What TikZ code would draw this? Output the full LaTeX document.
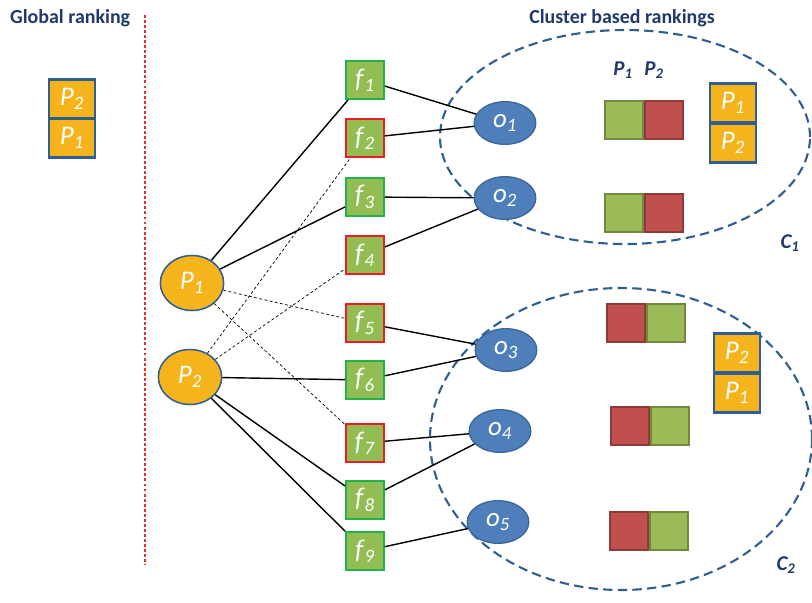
\documentclass[tikz,border=0pt]{standalone}
\usepackage{fontspec}
\setmainfont{Carlito}
\usetikzlibrary{shapes.geometric}

\definecolor{featfill}{HTML}{92BD52}
\definecolor{featgreen}{HTML}{22B24C}
\definecolor{featred}{HTML}{EC1C24}
\definecolor{prodfill}{HTML}{F5B41C}
\definecolor{navy}{HTML}{2F5E92}
\definecolor{objfill}{HTML}{4F7FBA}
\definecolor{objline}{HTML}{3B659A}
\definecolor{titleblue}{HTML}{1F3A6A}
\definecolor{goodfill}{HTML}{9BBB59}
\definecolor{goodline}{HTML}{6E8A3A}
\definecolor{badfill}{HTML}{C0504D}
\definecolor{badline}{HTML}{8E3A37}
\definecolor{splitred}{HTML}{E8302E}

\newcommand{\idx}[2]{\textit{#1}\textsubscript{\textit{#2}}}

\begin{document}
\begin{tikzpicture}[x=0.03cm, y=-0.03cm,
    feat/.style={rectangle, draw=featgreen, line width=1.3pt, fill=featfill, minimum size=1.15cm, inner sep=0pt, text=white, font=\fontsize{23}{23}\selectfont},
    badfeat/.style={feat, draw=featred},
    prod/.style={ellipse, draw=navy, line width=1.3pt, fill=prodfill, minimum width=1.9cm, minimum height=1.65cm, inner sep=0pt, text=white, font=\fontsize{23}{23}\selectfont},
    obj/.style={ellipse, draw=objline, line width=1.1pt, fill=objfill, minimum width=1.85cm, minimum height=1.28cm, inner sep=0pt, text=white, font=\fontsize{23}{23}\selectfont},
    rank/.style={rectangle, draw=navy, line width=2pt, fill=prodfill, minimum width=1.38cm, minimum height=1.17cm, inner sep=0pt, text=white, font=\fontsize{23}{23}\selectfont},
    good/.style={rectangle, draw=goodline, line width=1.5pt, fill=goodfill, minimum size=1.15cm},
    bad/.style={good, draw=badline, fill=badfill},
    link/.style={black, line width=1.2pt},
    weak/.style={black, line width=0.6pt, dash pattern=on 2.5pt off 2pt},
    cluster/.style={navy, line width=1.8pt, dash pattern=on 8pt off 4.5pt},
    heading/.style={text=titleblue, font=\fontsize{17}{20}\selectfont\bfseries},
    tag/.style={text=titleblue, font=\fontsize{18}{20}\selectfont\bfseries\itshape}
]
            \useasboundingbox (0,0) rectangle (812,602);

            % headings and separator
            \node[heading, anchor=west] (globaltitle) at (6,18) {Global ranking};
            \node[heading] (clustertitle) at (622,18) {Cluster based rankings};
            \draw[splitred, line width=1pt, dash pattern=on 2.5pt off 1.8pt] (145,15) -- (145,565);

            % clusters
            \draw[cluster] (625,137) ellipse [x radius=5.55cm, y radius=3.21cm];
            \draw[cluster] (621,439) ellipse [x radius=5.73cm, y radius=4.53cm];
            \node[tag] (c1) at (790,243) {\idx{C}{1}};
            \node[tag] (c2) at (786,565) {\idx{C}{2}};

            % global ranking
            \node[rank] (g2) at (72,99) {\idx{P}{2}};
            \node[rank] (g1) at (72,138) {\idx{P}{1}};

            % products
            \node[prod] (p1) at (192,283) {\idx{P}{1}};
            \node[prod] (p2) at (190,377) {\idx{P}{2}};

            % features
            \node[feat] (f1) at (365,80) {\idx{f}{1}};
            \node[badfeat] (f2) at (365,138) {\idx{f}{2}};
            \node[feat] (f3) at (365,197) {\idx{f}{3}};
            \node[badfeat] (f4) at (365,255) {\idx{f}{4}};
            \node[badfeat] (f5) at (365,323) {\idx{f}{5}};
            \node[feat] (f6) at (365,380) {\idx{f}{6}};
            \node[badfeat] (f7) at (365,443) {\idx{f}{7}};
            \node[feat] (f8) at (365,500) {\idx{f}{8}};
            \node[feat] (f9) at (365,551) {\idx{f}{9}};

            % opinions
            \node[obj] (o1) at (505,123) {\idx{o}{1}};
            \node[obj] (o2) at (505,198) {\idx{o}{2}};
            \node[obj] (o3) at (506,350) {\idx{o}{3}};
            \node[obj] (o4) at (500,431) {\idx{o}{4}};
            \node[obj] (o5) at (498,522) {\idx{o}{5}};

            % product -- feature
            \draw[link] (p1) -- (f1);
            \draw[link] (p1) -- (f3);
            \draw[weak] (p1) -- (f5);
            \draw[weak] (p1) -- (f7);
            \draw[weak] (p2) -- (f2);
            \draw[weak] (p2) -- (f4);
            \draw[link] (p2) -- (f6);
            \draw[link] (p2) -- (f8);
            \draw[link] (p2) -- (f9);

            % feature -- opinion
            \draw[link] (f1) -- (o1);
            \draw[link] (f2) -- (o1);
            \draw[link] (f3) -- (o2);
            \draw[link] (f4) -- (o2);
            \draw[link] (f5) -- (o3);
            \draw[link] (f6) -- (o3);
            \draw[link] (f7) -- (o4);
            \draw[link] (f8) -- (o4);
            \draw[link] (f9) -- (o5);

            % scores per opinion
            \node[tag] (h1) at (623,70) {\idx{P}{1}};
            \node[tag] (h2) at (654,70) {\idx{P}{2}};
            \node[good] (s1a) at (624,120) {};
            \node[bad] (s1b) at (664,120) {};
            \node[good] (s2a) at (624,213) {};
            \node[bad] (s2b) at (664,213) {};
            \node[bad] (s3a) at (626,323) {};
            \node[good] (s3b) at (666,323) {};
            \node[bad] (s4a) at (630,426) {};
            \node[good] (s4b) at (670,426) {};
            \node[bad] (s5a) at (629,531) {};
            \node[good] (s5b) at (669,531) {};

            % cluster rankings
            \node[rank] (r1a) at (733,103) {\idx{P}{1}};
            \node[rank] (r1b) at (733,143) {\idx{P}{2}};
            \node[rank] (r2a) at (737,353) {\idx{P}{2}};
            \node[rank] (r2b) at (737,393) {\idx{P}{1}};
\end{tikzpicture}
\end{document}
